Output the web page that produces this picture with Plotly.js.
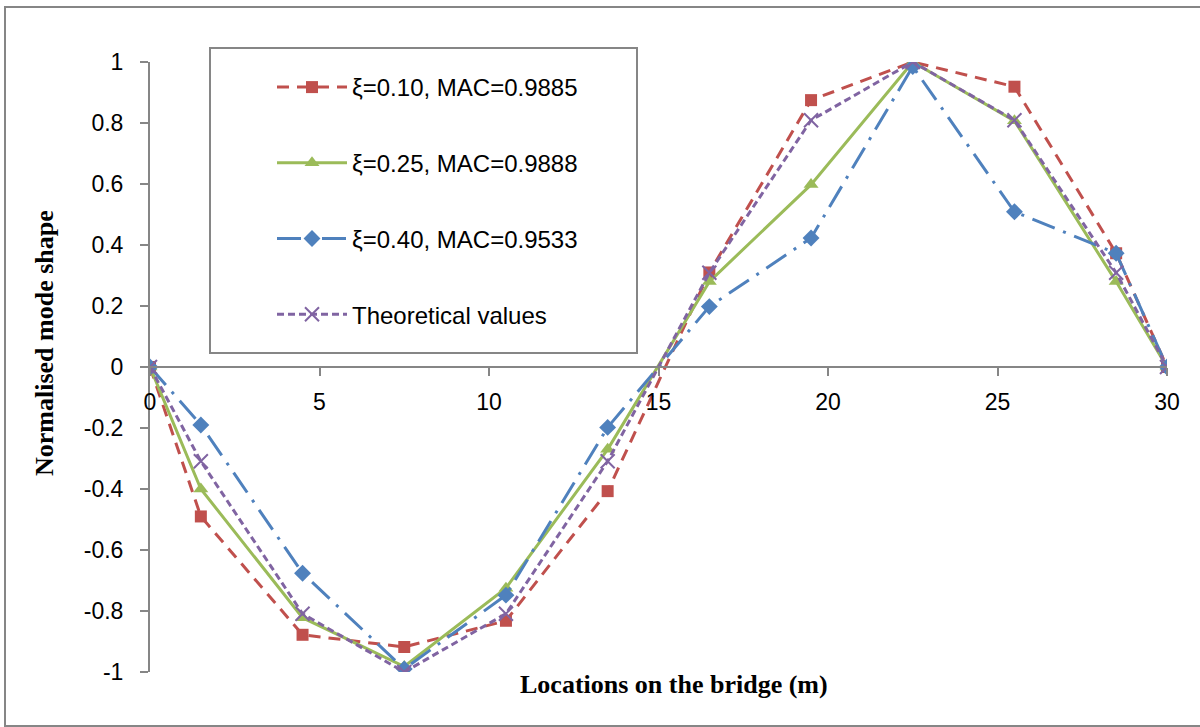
<!DOCTYPE html>
<html>
<head>
<meta charset="utf-8">
<script src="https://cdn.plot.ly/plotly-3.0.1.min.js"></script>
<style>html,body{margin:0;padding:0;background:#fff;} #chart{width:1200px;height:727px;}</style>
</head>
<body>
<div id="chart"></div>
<script>
const locations = [0, 1.5, 4.5, 7.5, 10.5, 13.5, 16.5, 19.5, 22.5, 25.5, 28.5, 30];
const xi010 = [0, -0.49, -0.878, -0.918, -0.832, -0.407, 0.31, 0.875, 1.0, 0.919, 0.373, 0];
const xi025 = [0, -0.40, -0.822, -0.982, -0.725, -0.27, 0.28, 0.598, 1.0, 0.807, 0.28, 0];
const xi040 = [0, -0.19, -0.676, -0.99, -0.748, -0.198, 0.198, 0.423, 0.985, 0.509, 0.373, 0];
const theoretical = [0, -0.309, -0.809, -1.0, -0.809, -0.309, 0.309, 0.809, 1.0, 0.809, 0.309, 0];
const seriesNames = ['ξ=0.10, MAC=0.9885', 'ξ=0.25, MAC=0.9888', 'ξ=0.40, MAC=0.9533', 'Theoretical values'];
const xTicks = [0, 5, 10, 15, 20, 25, 30];
const yTicks = [-1, -0.8, -0.6, -0.4, -0.2, 0, 0.2, 0.4, 0.6, 0.8, 1];

const W = 1200, H = 727;
const L = 150, R = 1167, T = 62, B = 672;
const px = v => (v - L) / (R - L);
const py = v => (B - v) / (B - T);

const traces = [
  {x: locations, y: xi010, name: seriesNames[0], legendgroup: 'a', mode: 'lines+markers',
   line: {color: '#C0504D', width: 3, dash: '12px,8px'},
   marker: {symbol: 'square', size: 12, color: '#C0504D'}},
  {x: locations, y: xi025, name: seriesNames[1], legendgroup: 'b', mode: 'lines+markers',
   line: {color: '#9BBB59', width: 3},
   marker: {symbol: 'triangle-up', size: 13, color: '#9BBB59'}},
  {x: locations, y: xi040, name: seriesNames[2], legendgroup: 'c', mode: 'lines+markers',
   line: {color: '#4F81BD', width: 3, dash: '24px,9px,3px,9px'},
   marker: {symbol: 'diamond', size: 13, color: '#4F81BD'}},
  {x: locations, y: theoretical, name: seriesNames[3], legendgroup: 'd', mode: 'lines+markers',
   line: {color: '#8064A2', width: 3, dash: '7px,4px'},
   marker: {symbol: 'x-thin-open', size: 14, color: '#8064A2', line: {color: '#8064A2', width: 2}}}
];

const tickFont = {family: 'Liberation Sans, Arial, sans-serif', size: 23, color: '#000'};

const layout = {
  width: W, height: H,
  margin: {l: L, r: W - R, t: T, b: H - B, pad: 0},
  paper_bgcolor: '#fff', plot_bgcolor: '#fff',
  showlegend: true,
  xaxis: {
    range: [0, 30], tickvals: xTicks, ticktext: xTicks.map(String),
    showgrid: false, zeroline: false, showline: true, linecolor: '#868686', linewidth: 2,
    ticks: 'outside', ticklen: 8, tickwidth: 2, tickcolor: '#868686',
    anchor: 'free', position: 0.5, tickfont: tickFont, ticklabelstandoff: 6, fixedrange: true
  },
  yaxis: {
    range: [-1, 1], tickvals: yTicks, ticktext: yTicks.map(v => String(v)),
    showgrid: false, zeroline: false, showline: true, linecolor: '#868686', linewidth: 2,
    ticks: 'outside', ticklen: 8, tickwidth: 2, tickcolor: '#868686',
    tickfont: tickFont, ticklabelstandoff: 12, fixedrange: true
  },
  legend: {
    x: px(272), y: py(65), xanchor: 'left', yanchor: 'top',
    bgcolor: 'rgba(0,0,0,0)', borderwidth: 0,
    font: {family: 'Liberation Sans, Arial, sans-serif', size: 24, color: '#000'},
    traceorder: 'grouped', tracegroupgap: 41.5, itemwidth: 70
  },
  shapes: [
    {type: 'rect', xref: 'paper', yref: 'paper', x0: px(5), x1: px(1210), y0: py(726), y1: py(7),
     line: {color: '#868686', width: 2}, fillcolor: 'rgba(0,0,0,0)', layer: 'below'},
    {type: 'rect', xref: 'paper', yref: 'paper', x0: px(210), x1: px(637), y0: py(353), y1: py(48),
     line: {color: '#868686', width: 2}, fillcolor: '#fff', layer: 'below'}
  ],
  annotations: [
    {text: '<b>Locations on the bridge (m)</b>', xref: 'paper', yref: 'paper', x: px(674), y: py(684),
     xanchor: 'center', yanchor: 'middle', showarrow: false,
     font: {family: 'Liberation Serif, Times New Roman, serif', size: 26, color: '#000'}},
    {text: '<b>Normalised mode shape</b>', xref: 'paper', yref: 'paper', x: px(44), y: py(343),
     xanchor: 'center', yanchor: 'middle', showarrow: false, textangle: -90,
     font: {family: 'Liberation Serif, Times New Roman, serif', size: 26, color: '#000'}}
  ]
};

Plotly.newPlot('chart', traces, layout, {displayModeBar: false, staticPlot: true});
</script>
</body>
</html>
